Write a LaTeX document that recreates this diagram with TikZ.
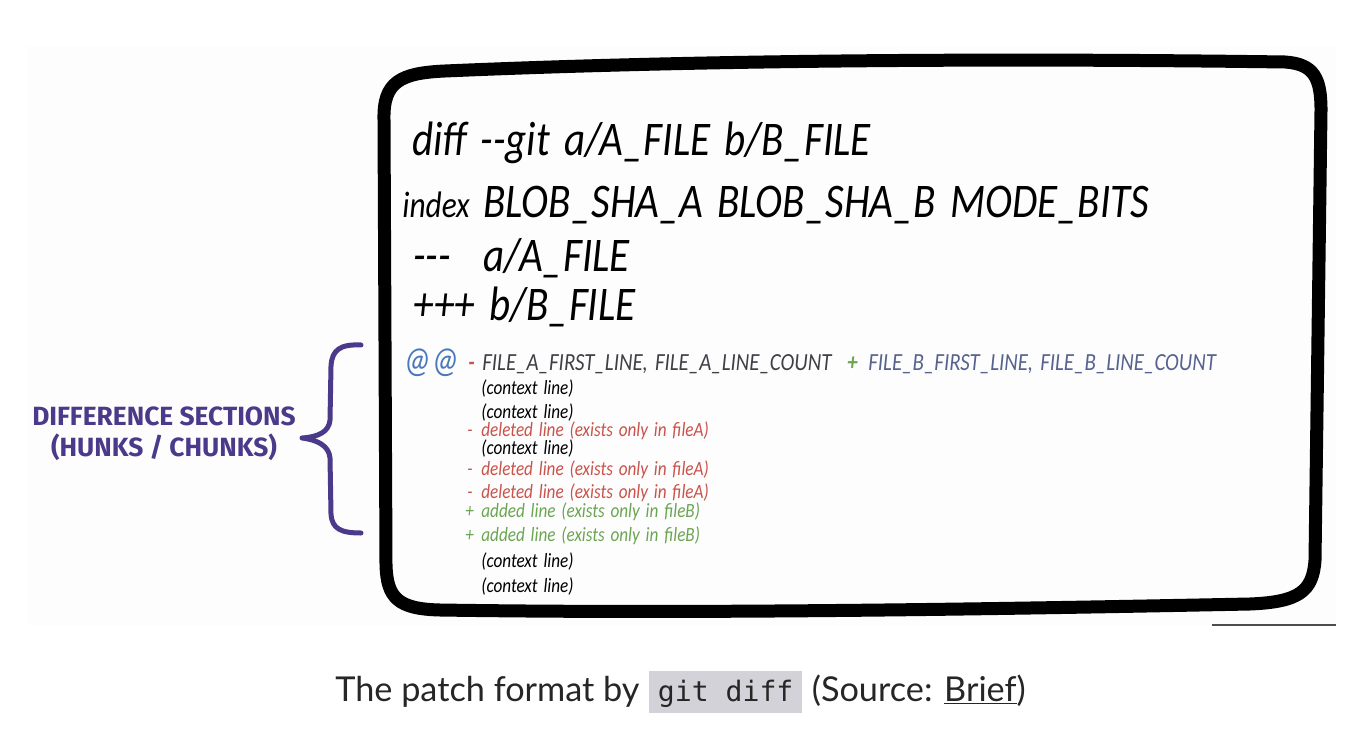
\documentclass[tikz,border=0pt]{standalone}
\usepackage{fontspec}
\setmainfont{Lato}
\setmonofont{DejaVu Sans Mono}
\newfontfamily\handfont[FakeStretch=0.85, WordSpace=1.5]{Carlito}
\newfontfamily\labelfont{Fira Sans}
\usetikzlibrary{positioning, calc}

\definecolor{hunkpurple}{HTML}{4B3A8A}
\definecolor{delred}{HTML}{C9524A}
\definecolor{addgreen}{HTML}{6BA552}
\definecolor{atblue}{HTML}{4A78B8}
\definecolor{headgray}{HTML}{3F3F46}
\definecolor{bslate}{HTML}{56628F}
\definecolor{codegray}{HTML}{D2D2D8}
\definecolor{shotbg}{HTML}{FDFDFD}

\begin{document}
\begin{tikzpicture}[
  x=0.02cm, y=-0.02cm,
  bigline/.style={anchor=base west, inner sep=0pt, font=\handfont\itshape\fontsize{27.5}{27.5}\selectfont},
  hunkhead/.style={anchor=base west, inner sep=0pt, font=\handfont\itshape\fontsize{14}{14}\selectfont},
  smallline/.style={anchor=base west, inner sep=0pt, text height=0.62em, text depth=0.08em, font=\handfont\itshape\fontsize{11.5}{11.5}\selectfont},
  sidelbl/.style={align=center, inner sep=0pt, text=hunkpurple, font=\labelfont\bfseries\fontsize{15}{17.5}\selectfont},
  caption/.style={anchor=base west, inner sep=0pt, font=\fontsize{19.5}{19.5}\selectfont, text=black!85}
]
\useasboundingbox (0,0) rectangle (1368,736);

% screenshot area
\fill[shotbg] (27,46) rectangle (1336,625);
\draw[black!70, line width=0.6pt] (1212,625) -- (1336,625);

% hand drawn frame
\draw[line width=0.26cm, line cap=round, line join=round]
  (384,120) .. controls (383,82) and (400,73) .. (445,71)
  .. controls (700,60) and (1000,58) .. (1285,62)
  .. controls (1314,64) and (1321,78) .. (1321,110)
  -- (1315,560)
  .. controls (1313,592) and (1298,602) .. (1250,604)
  .. controls (1000,609) and (700,614) .. (440,610)
  .. controls (398,609) and (387,598) .. (386,565)
  -- cycle;

% header lines
\node[bigline] (diffline) at (412,156) {diff --git a/A\_FILE b/B\_FILE};
\node[bigline] (indexline) at (402,218) {{\fontsize{21}{21}\selectfont index} BLOB\_SHA\_A BLOB\_SHA\_B MODE\_BITS};
\node[bigline] (oldline) at (413,272) {---\hspace{0.65cm}a/A\_FILE};
\node[bigline] (newline) at (413,320) {+++ b/B\_FILE};

% hunk header
\node[hunkhead, text=atblue, font=\handfont\itshape\fontsize{21}{21}\selectfont] (atat) at (403,372) {@@};
\node[hunkhead, text=delred] (minus) at (468,370) {\textbf{-}};
\node[hunkhead, text=headgray] (fromrange) at (482,370) {FILE\_A\_FIRST\_LINE,\ FILE\_A\_LINE\_COUNT};
\node[hunkhead, text=addgreen] (plus) at (847,370) {\textbf{+}};
\node[hunkhead, text=bslate] (torange) at (868,370) {FILE\_B\_FIRST\_LINE,\ FILE\_B\_LINE\_COUNT};

% hunk body
\node[smallline] (ctxA) at (481,394) {(context line)};
\node[smallline] (ctxB) at (481,418) {(context line)};
\node[smallline, text=delred] (delA) at (467,436) {\makebox[0.28cm][l]{-}deleted line (exists only in fileA)};
\node[smallline] (ctxC) at (481,454) {(context line)};
\node[smallline, text=delred] (delB) at (467,475) {\makebox[0.28cm][l]{-}deleted line (exists only in fileA)};
\node[smallline, text=delred] (delC) at (467,498) {\makebox[0.28cm][l]{-}deleted line (exists only in fileA)};
\node[smallline, text=addgreen] (addA) at (465,517) {\makebox[0.32cm][l]{+}added line (exists only in fileB)};
\node[smallline, text=addgreen] (addB) at (465,541) {\makebox[0.32cm][l]{+}added line (exists only in fileB)};
\node[smallline] (ctxD) at (481,567) {(context line)};
\node[smallline] (ctxE) at (481,592) {(context line)};

% brace and side label
\draw[hunkpurple, line width=0.1cm, line cap=round, line join=round]
  (361,345) .. controls (340,344) and (332,350) .. (331,366)
  -- (330,420) .. controls (329,432) and (318,437) .. (302,438)
  .. controls (318,440) and (329,446) .. (330,458)
  -- (331,514) .. controls (332,529) and (341,533) .. (361,533);
\node[sidelbl] (hunklbl) at (164,434) {DIFFERENCE SECTIONS\\(HUNKS / CHUNKS)};

% caption
\node[caption] (capA) at (335,701) {The patch format by};
\node[caption, fill=codegray, inner xsep=5pt, inner ysep=0pt, text depth=7pt, text height=17pt, font=\ttfamily\fontsize{16}{16}\selectfont]
  (gitcode) at ($(capA.base east)+(9,0)$) {git diff};
\node[caption] (capB) at ($(gitcode.base east)+(9,0)$) {(Source: \underline{Brief})};

\end{tikzpicture}
\end{document}
